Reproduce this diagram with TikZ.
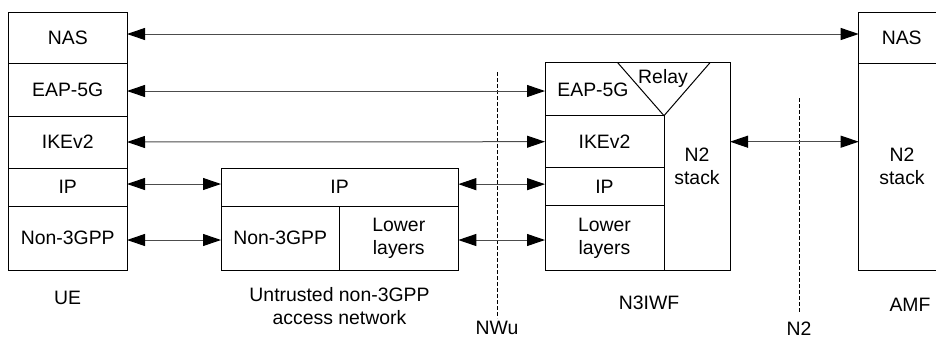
\documentclass[tikz,border=0pt]{standalone}
\usepackage{fontspec}
\setmainfont{Liberation Sans}
\usetikzlibrary{arrows.meta}
\begin{document}
\begin{tikzpicture}[x=1pt,y=-1pt,
  every node/.style={font=\fontsize{19.4}{23}\selectfont, align=center},
  cell/.style={draw, line width=1pt, inner sep=0pt, outer sep=0pt, anchor=north west},
  lbl/.style={inner sep=0pt, outer sep=0pt},
  link/.style={draw=black!70, line width=1pt,
    {Triangle[length=18pt,width=12pt,color=black]}-{Triangle[length=18pt,width=12pt,color=black]}},
  iface/.style={line width=0.8pt, dash pattern=on 4pt off 2pt}]
\useasboundingbox (0,0) rectangle (936,338);
\clip (0,0) rectangle (936,338);
% UE
\node[cell, minimum width=118.5pt, minimum height=51pt] (ueNAS) at (8.5,12) {NAS};
\node[cell, minimum width=118.5pt, minimum height=53pt] (ueEAP) at (8.5,63) {EAP-5G};
\node[cell, minimum width=118.5pt, minimum height=52pt] (ueIKE) at (8.5,116) {IKEv2};
\node[cell, minimum width=118.5pt, minimum height=38pt] (ueIP) at (8.5,168) {IP};
\node[cell, minimum width=118.5pt, minimum height=64pt] (ueNon) at (8.5,206) {Non-3GPP};
\node[lbl] (ue) at (67.5,298) {UE};
% Untrusted access network
\node[cell, minimum width=237.3pt, minimum height=37.7pt] (unIP) at (221,168.3) {IP};
\node[cell, minimum width=118.3pt, minimum height=64pt] (unNon) at (221,206) {Non-3GPP};
\node[cell, minimum width=119pt, minimum height=64pt] (unLow) at (339.3,206) {Lower\\layers};
\node[lbl] (un) at (339.5,306.5) {Untrusted non-3GPP\\access network};
% N3IWF
\node[cell, minimum width=185pt, minimum height=207.3pt] (n3) at (545,62.7) {};
\node[cell, minimum width=119pt, minimum height=52pt] (n3IKE) at (545,115.7) {IKEv2};
\node[cell, minimum width=119pt, minimum height=38pt] (n3IP) at (545,167.7) {IP};
\node[cell, minimum width=119pt, minimum height=64.3pt] (n3Low) at (545,205.7) {Lower\\layers};
\node[lbl] (n3EAP) at (593,90) {EAP-5G};
\node[lbl] (relay) at (663,78) {Relay};
\node[lbl] (n3N2) at (697,166) {N2\\stack};
\draw[line width=1pt] ([xshift=72.7pt]n3.north west) -- (n3IKE.north east) -- ([xshift=165pt]n3.north west);
\node[lbl] (n3lbl) at (649,303) {N3IWF};
% AMF
\node[cell, minimum width=120pt, minimum height=51pt] (amfNAS) at (858.7,12) {};
\node[cell, minimum width=120pt, minimum height=207pt] (amfN2) at (858.7,63) {};
\node[lbl] (amfNAStxt) at (901.7,37.5) {NAS};
\node[lbl] (amfN2txt) at (902,166) {N2\\stack};
\node[lbl] (amf) at (910,305) {AMF};
% reference points
\node[lbl] (nwu) at (497,328.3) {NWu};
\node[lbl] (n2) at (799,328.3) {N2};
\coordinate (nwuTop) at (497,72);
\coordinate (nwuBot) at (497,318);
\coordinate (n2Top) at (799,98);
\coordinate (n2Bot) at (799,313);
\draw[iface] (nwuTop) -- (nwuBot);
\draw[iface] (n2Top) -- (n2Bot);
% links
\draw[link] ([yshift=3.5pt]ueNAS.east) -- ([yshift=3.5pt]ueNAS.east -| amfNAS.west);
\draw[link] ([yshift=-1.5pt]ueEAP.east) -- ([yshift=-1.5pt]ueEAP.east -| n3.west);
\draw[link] (ueIKE.east) -- (n3IKE.west);
\draw[link] ([yshift=3pt]ueIP.east) -- ([yshift=3pt]ueIP.east -| unIP.west);
\draw[link] ([yshift=3pt]unIP.east) -- ([yshift=3pt]unIP.east -| n3IP.west);
\draw[link] ([yshift=-2pt]ueNon.east) -- ([yshift=-2pt]ueNon.east -| unNon.west);
\draw[link] ([yshift=-2pt]unLow.east) -- ([yshift=-2pt]unLow.east -| n3Low.west);
\draw[link] (n3IKE.east -| n3.east) -- (n3IKE.east -| amfN2.west);
\end{tikzpicture}
\end{document}
